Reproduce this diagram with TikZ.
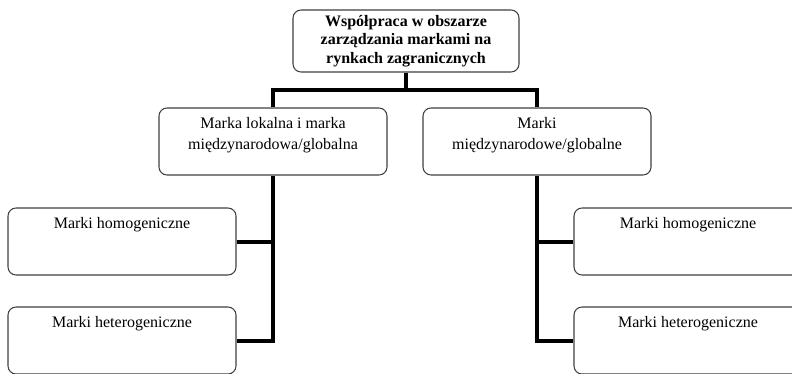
\documentclass[tikz,border=0pt]{standalone}
\usepackage{fontspec}
\setmainfont{Liberation Serif}
\usetikzlibrary{positioning}

\tikzset{
  box/.style={draw=black!75, line width=0.8pt, rounded corners=6pt, fill=white,
    minimum width=171pt, minimum height=50.25pt, inner sep=0pt},
  txt/.style={inner sep=0pt, align=center, font=\fontsize{12}{15.75}\selectfont},
  conn/.style={line width=3pt},
}

\begin{document}
\begin{tikzpicture}[x=0.75pt, y=-0.75pt]
    \useasboundingbox (0,0) rectangle (792,374);
    % Top box
    \node[box, minimum width=169.5pt, minimum height=46.5pt, align=center,
      font=\bfseries\fontsize{12}{13.9}\selectfont] (coop) at (406,41)
      {Współpraca w obszarze\\zarządzania markami na\\rynkach zagranicznych};
    \coordinate (bus) at (406,90);
    % Second level
    \node[box] (local) at (273,141.5) {};
    \node[txt, below=7pt of local.north] (localtxt) {Marka lokalna i marka\\międzynarodowa/globalna};
    \node[box] (global) at (537,141.5) {};
    \node[txt, below=7pt of global.north] (globaltxt) {Marki\\międzynarodowe/globalne};
    % Left leaves
    \node[box] (lhomo) at (122,241.5) {};
    \node[txt, below=7pt of lhomo.north] (lhomotxt) {Marki homogeniczne};
    \node[box] (lhetero) at (122,340.5) {};
    \node[txt, below=7pt of lhetero.north] (lheterotxt) {Marki heterogeniczne};
    % Right leaves
    \node[box] (rhomo) at (688,241.5) {};
    \node[txt, below=7pt of rhomo.north] (rhomotxt) {Marki homogeniczne};
    \node[box] (rhetero) at (688,340.5) {};
    \node[txt, below=7pt of rhetero.north] (rheterotxt) {Marki heterogeniczne};
    % Connectors
    \draw[conn] (coop.south) -- (bus);
    \draw[conn] (local.north) |- (bus) -| (global.north);
    \draw[conn] (local.south) |- (lhomo.east);
    \draw[conn] (local.south) |- (lhetero.east);
    \draw[conn] (global.south) |- (rhomo.west);
    \draw[conn] (global.south) |- (rhetero.west);
\end{tikzpicture}
\end{document}
